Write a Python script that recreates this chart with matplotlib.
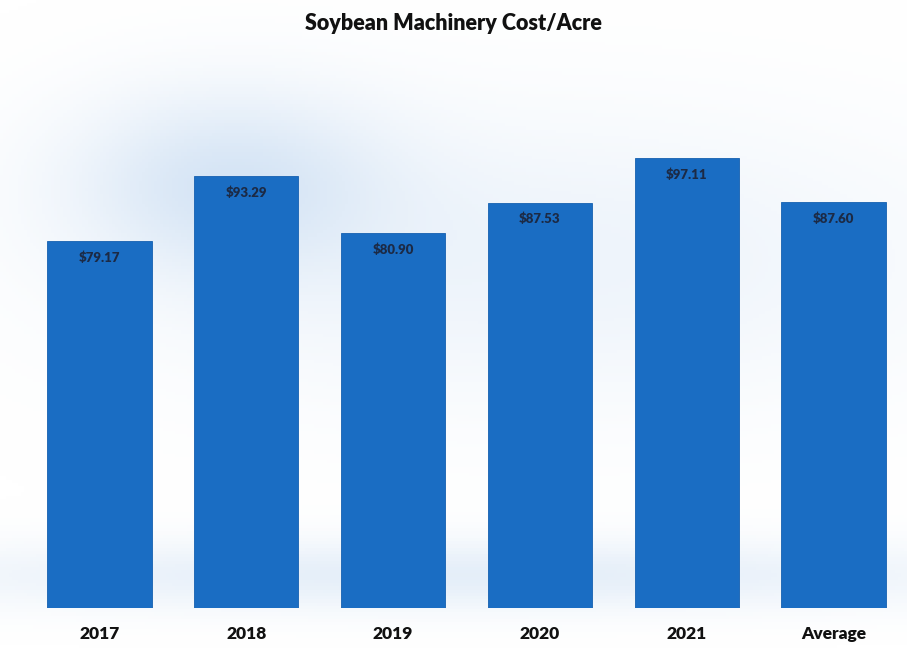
import matplotlib
matplotlib.use("Agg")
import matplotlib.pyplot as plt
import numpy as np

categories = ["2017", "2018", "2019", "2020", "2021", "Average"]
values = [79.17, 93.29, 80.90, 87.53, 97.11, 87.60]
labels = ["$79.17", "$93.29", "$80.90", "$87.53", "$97.11", "$87.60"]

plt.rcParams['font.family'] = ['Lato', 'DejaVu Sans']

fig = plt.figure(figsize=(9.07, 6.48), dpi=100)
fig.patch.set_facecolor("white")

# faint watercolor-like background
bg = fig.add_axes([0, 0, 1, 1], zorder=0)
yy, xx = np.mgrid[0:1:200j, 0:1:300j]
field = (np.exp(-((xx - 0.25) ** 2) / 0.03 - ((yy - 0.72) ** 2) / 0.02) * 0.6
         + np.exp(-((xx - 0.6) ** 2) / 0.2 - ((yy - 0.6) ** 2) / 0.05) * 0.3
         + np.exp(-((xx - 0.5) ** 2) / 0.4 - ((yy - 0.11) ** 2) / 0.003) * 0.45)
field = np.clip(field, 0, 1)
rgba = np.zeros(field.shape + (4,))
rgba[..., 0] = 0.70
rgba[..., 1] = 0.81
rgba[..., 2] = 0.93
rgba[..., 3] = field * 0.75
bg.imshow(rgba, extent=[0, 1, 0, 1], aspect='auto', origin='lower')
bg.set_axis_off()

ax = fig.add_axes([26 / 907, 1 - 608 / 648, (907 - 26) / 907, (608 - 90) / 648], zorder=1)
ax.patch.set_alpha(0)
x = np.arange(len(categories))
bars = ax.bar(x, values, width=0.71, color="#1a6dc3", edgecolor="#1560b0", linewidth=0.6)
ax.set_xlim(-0.5, len(categories) - 0.5)
ax.set_ylim(0, (608 - 90) / 4.63)

for xi, v, lab in zip(x, values, labels):
    ax.text(xi, v - 2.2, lab, ha='center', va='top', fontsize=9.5,
            fontweight='heavy', color="#1c2a45")

ax.set_xticks(x)
ax.set_xticklabels(categories, fontsize=12.5, fontweight='heavy', color="#111111")
ax.tick_params(axis='x', length=0, pad=13)
ax.set_yticks([])
for s in ax.spines.values():
    s.set_visible(False)

fig.text(0.5, 1 - 23 / 648, "Soybean Machinery Cost/Acre", ha='center', va='center',
         fontsize=15.5, fontweight='heavy', color="#111111")

fig.savefig("out.png", dpi=100)
